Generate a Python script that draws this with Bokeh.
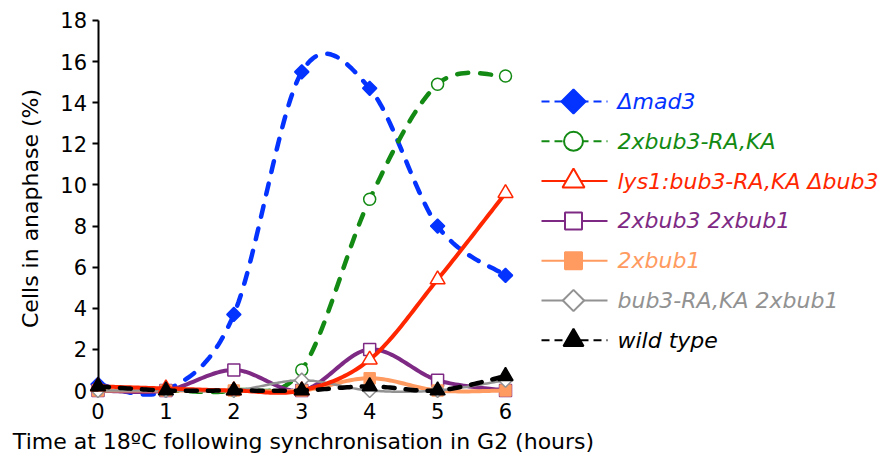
import numpy as np
from bokeh.plotting import figure
from bokeh.models import Range1d, FixedTicker
from bokeh.core.properties import value
from bokeh.embed import file_html
from bokeh.resources import INLINE

# ---------------- data ----------------
hours = [0, 1, 2, 3, 4, 5, 6]
mad3 = [0.3, 0.0, 3.7, 15.5, 14.7, 8.0, 5.6]
bub3_raka_2x = [0.0, 0.0, 0.0, 1.0, 9.3, 14.9, 15.3]
lys1_raka = [0.2, 0.1, 0.0, 0.0, 1.5, 5.4, 9.6]
bub3_bub1_2x = [0.0, 0.0, 1.0, 0.0, 2.0, 0.5, 0.0]
bub1_2x = [0.0, 0.0, 0.0, 0.0, 0.6, 0.0, 0.0]
raka_bub1_2x = [0.0, 0.0, 0.0, 0.5, 0.0, 0.0, 0.5]
wild_type = [0.2, 0.0, 0.0, 0.0, 0.2, 0.0, 0.7]
series_labels = ["Δmad3", "2xbub3-RA,KA", "lys1:bub3-RA,KA Δbub3", "2xbub3 2xbub1",
                 "2xbub1", "bub3-RA,KA 2xbub1", "wild type"]
y_tick_values = [0, 2, 4, 6, 8, 10, 12, 14, 16, 18]
x_tick_values = [0, 1, 2, 3, 4, 5, 6]
x_title = "Time at 18ºC following synchronisation in G2 (hours)"
y_title = "Cells in anaphase (%)"

# ---------------- styles ----------------
FONT = "DejaVu Sans"
BLUE, GREEN, RED, PURPLE, ORANGE, GRAY, BLACK = ("#0433FF", "#138A13", "#FF2600", "#7E2A84",
                                                 "#FF9B61", "#929292", "#000000")
styles = [
    dict(color=BLUE, dash="11 12", lw=4.5, marker="square", angle=np.pi / 4, size=10, fill=BLUE,
         lsize=17, ldash="8 5"),
    dict(color=GREEN, dash="11 12", lw=4.5, marker="circle", angle=0, size=12, fill="white",
         lsize=19, ldash="8 5"),
    dict(color=RED, dash="solid", lw=4, marker="triangle", angle=0, size=15, fill="white",
         lsize=22, ldash="solid"),
    dict(color=PURPLE, dash="solid", lw=4, marker="square", angle=0, size=12, fill="white",
         lsize=17, ldash="solid"),
    dict(color=ORANGE, dash="solid", lw=4, marker="square", angle=0, size=11, fill=ORANGE,
         lsize=17, ldash="solid"),
    dict(color=GRAY, dash="solid", lw=2.5, marker="square", angle=np.pi / 4, size=10, fill="white",
         lsize=15, ldash="solid"),
    dict(color=BLACK, dash="11 11", lw=4.5, marker="triangle", angle=0, size=15, fill=BLACK,
         lsize=20, ldash="8 5"),
]
series = [mad3, bub3_raka_2x, lys1_raka, bub3_bub1_2x, bub1_2x, raka_bub1_2x, wild_type]
draw_order = [0, 1, 3, 4, 5, 2, 6]


def smooth(xs, ys, steps=30):
    """Excel-like smoothed line (Catmull-Rom Bezier) through the data points."""
    P = np.column_stack([xs, ys]).astype(float)
    n = len(P)
    parts = []
    for i in range(n - 1):
        p0, p1, p2, p3 = P[max(i - 1, 0)], P[i], P[i + 1], P[min(i + 2, n - 1)]
        c1 = p1 + (p2 - p0) / 6.0
        c2 = p2 - (p3 - p1) / 6.0
        t = np.linspace(0, 1, steps, endpoint=(i == n - 2))[:, None]
        parts.append((1 - t) ** 3 * p1 + 3 * (1 - t) ** 2 * t * c1 + 3 * (1 - t) * t ** 2 * c2 + t ** 3 * p2)
    s = np.vstack(parts)
    return s[:, 0], s[:, 1]


# ---------------- canvas / scales ----------------
W, H = 886, 460
X0_PX, PX_PER_HOUR = 97.5, 67.92     # pixel of hour 0, pixels per hour
Y0_PX, PX_PER_PCT = 390.0, 20.556    # pixel of 0 %, pixels per %


def hx(px):
    return (px - X0_PX) / PX_PER_HOUR


def vy(py):
    return (Y0_PX - py) / PX_PER_PCT


p = figure(width=W, height=H, x_range=Range1d(hx(0), hx(W)), y_range=Range1d(vy(H), vy(0)),
           toolbar_location=None, output_backend="svg", min_border=0)
p.grid.visible = False
p.outline_line_color = None
p.background_fill_color = "white"
p.border_fill_color = "white"

for k in draw_order:
    ys, st = series[k], styles[k]
    sx, sy = smooth(hours, ys)
    p.line(sx, sy, line_color=st["color"], line_width=st["lw"], line_dash=st["dash"],
           line_cap="round" if st["dash"] != "solid" else "butt", line_join="round")
    p.scatter(hours, ys, marker=st["marker"], angle=st["angle"], size=st["size"],
              fill_color=st["fill"], line_color=st["color"], line_width=1.5)

yax = p.yaxis[0]
yax.fixed_location = 0
yax.bounds = (0, 18)
yax.ticker = FixedTicker(ticks=y_tick_values)
yax.axis_line_width = 2
yax.axis_line_color = "black"
yax.major_tick_out = 6
yax.major_tick_in = 0
yax.major_tick_line_width = 2
yax.minor_tick_line_color = None
yax.major_label_standoff = 5
yax.major_label_text_font = FONT
yax.major_label_text_font_size = "21px"
yax.major_label_text_color = "black"

xax = p.xaxis[0]
xax.fixed_location = 0
xax.ticker = FixedTicker(ticks=x_tick_values)
xax.axis_line_color = None
xax.major_tick_out = 0
xax.major_tick_in = 0
xax.minor_tick_line_color = None
xax.major_label_standoff = 12
xax.major_label_text_font = FONT
xax.major_label_text_font_size = "21px"
xax.major_label_text_color = "black"

# axis titles
p.text([hx(303)], [vy(441)], text=[x_title], text_font=value(FONT), text_font_size="22px",
       text_color="black", text_align="center", text_baseline="middle")
p.text([hx(30)], [vy(208)], text=[y_title], text_font=value(FONT), text_font_size="22px",
       text_color="black", text_align="center", text_baseline="middle", angle=np.pi / 2)

# ---------------- legend ----------------
row_top, row_gap = 101, 39.8
x_line0, x_line1, x_mark, x_text = 541, 607, 573, 617
for i, (lab, st) in enumerate(zip(series_labels, styles)):
    yy = vy(row_top + i * row_gap)
    p.line([hx(x_line0), hx(x_line1)], [yy, yy], line_color=st["color"], line_width=2,
           line_dash=st["ldash"])
    p.scatter([hx(x_mark)], [yy], marker=st["marker"], angle=st["angle"], size=st["lsize"],
              fill_color=st["fill"], line_color=st["color"], line_width=2)
    p.text([hx(x_text)], [yy], text=[lab], text_color=st["color"], text_font=value(FONT),
           text_font_style="italic", text_font_size="22px", text_baseline="middle",
           text_align="left")

open("out.html", "w").write(file_html(p, INLINE))
